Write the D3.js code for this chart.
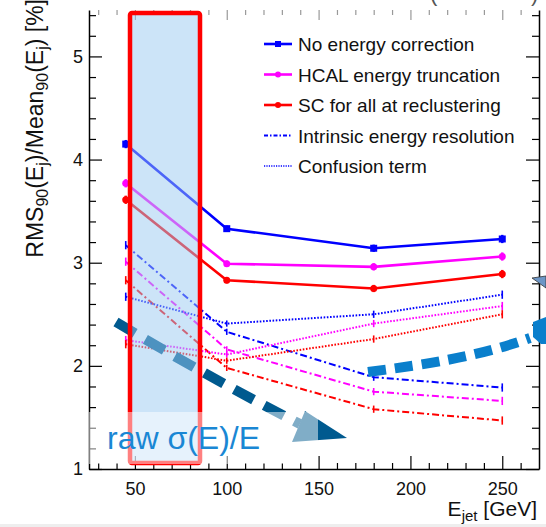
<!DOCTYPE html>
<html>
<head>
<meta charset="utf-8">
<script src="https://cdn.jsdelivr.net/npm/d3@7"></script>
<style>
  html, body { margin: 0; padding: 0; background: #fff; }
  svg { display: block; font-family: "Liberation Sans", Arial, sans-serif; }
</style>
</head>
<body>
<div id="chart"></div>
<script>
/*
  JET ENERGY RESOLUTION vs E_jet
*/
const energies = [45, 100, 180, 250];

// full resolution
const noCorrection = [4.15, 3.33, 3.14, 3.23];
const hcalTruncation = [3.77, 2.99, 2.96, 3.06];
const scReclustering = [3.61, 2.83, 2.75, 2.89];

// intrinsic part (dash-dot)
const intrinsicNoCorr = [3.17, 2.33, 1.89, 1.79];
const intrinsicHcal = [3.01, 2.16, 1.75, 1.66];
const intrinsicSc = [2.83, 1.98, 1.58, 1.47];

// confusion part (dotted)
const confusionNoCorr = [2.67, 2.41, 2.50, 2.69];
const confusionHcal = [2.25, 2.11, 2.41, 2.58];
const confusionSc = [2.21, 2.05, 2.26, 2.50];

const errSize = [0.04, 0.03, 0.035, 0.04];

const xTicks = [50, 100, 150, 200, 250];
const yTicks = [1, 2, 3, 4, 5];
const legendLabels = [
  'No energy correction',
  'HCAL energy truncation',
  'SC for all at reclustering',
  'Intrinsic energy resolution',
  'Confusion term'
];

const width = 546;
const height = 527;

const svg = d3.select('#chart').append('svg')
  .attr('width', width)
  .attr('height', height);

const x = d3.scaleLinear().domain([25, 270]).range([89, 539]);
const y = d3.scaleLinear().domain([1, 5.45]).range([469, 10]);

const BLUE = '#0000ff', MAG = '#ff00ff', RED = '#ff0000';
const DASHDOT = '7,3,2,3';
const DOTTED = '1.6,1.6';

const series = [
  { values: noCorrection, color: BLUE, dash: null, w: 2.6, marker: 'square' },
  { values: hcalTruncation, color: MAG, dash: null, w: 2.6, marker: 'circle' },
  { values: scReclustering, color: RED, dash: null, w: 2.6, marker: 'circle' },
  { values: intrinsicNoCorr, color: BLUE, dash: DASHDOT, w: 2, marker: null },
  { values: intrinsicHcal, color: MAG, dash: DASHDOT, w: 2, marker: null },
  { values: intrinsicSc, color: RED, dash: DASHDOT, w: 2, marker: null },
  { values: confusionNoCorr, color: BLUE, dash: DOTTED, w: 2, marker: null },
  { values: confusionHcal, color: MAG, dash: DOTTED, w: 2, marker: null },
  { values: confusionSc, color: RED, dash: DOTTED, w: 2, marker: null }
];

// Axes (ROOT style, ticks inside frame)
function styleAxis(g, color) {
  g.selectAll('line').attr('stroke', color || '#000').attr('stroke-width', 1.2);
  g.selectAll('text').attr('fill', '#111').attr('font-size', 18);
}

const minorX = d3.range(30, 270, 10).filter(v => !xTicks.includes(v));
const minorY = d3.range(12, 55, 2).map(v => v / 10).filter(v => !yTicks.includes(v));

svg.append('g')
  .attr('transform', 'translate(0,469)')
  .call(d3.axisBottom(x).tickValues(xTicks).tickSize(-13).tickSizeOuter(0).tickPadding(13))
  .call(g => g.select('.domain').attr('stroke', '#000').attr('stroke-width', 1.5))
  .call(g => styleAxis(g));

svg.append('g')
  .attr('transform', 'translate(0,469)')
  .call(d3.axisBottom(x).tickValues(minorX).tickSize(-6).tickFormat(''))
  .call(g => g.select('.domain').remove())
  .call(g => styleAxis(g));

svg.append('g')
  .attr('transform', 'translate(89,0)')
  .call(d3.axisLeft(y).tickValues(yTicks).tickFormat(d3.format('d')).tickSize(-13).tickSizeOuter(0).tickPadding(6))
  .call(g => g.select('.domain').attr('stroke', '#000').attr('stroke-width', 1.5))
  .call(g => styleAxis(g));

svg.append('g')
  .attr('transform', 'translate(89,0)')
  .call(d3.axisLeft(y).tickValues(minorY).tickSize(-7).tickFormat(''))
  .call(g => g.select('.domain').remove())
  .call(g => styleAxis(g));

svg.append('g')
  .attr('transform', 'translate(539,0)')
  .call(d3.axisRight(y).tickValues(yTicks).tickSize(-13).tickSizeOuter(0).tickFormat(''))
  .call(g => g.select('.domain').attr('stroke', '#000').attr('stroke-width', 1.5))
  .call(g => styleAxis(g));

svg.append('g')
  .attr('transform', 'translate(539,0)')
  .call(d3.axisRight(y).tickValues(minorY).tickSize(-7).tickFormat(''))
  .call(g => g.select('.domain').remove())
  .call(g => styleAxis(g));

svg.append('g')
  .attr('transform', 'translate(0,10)')
  .call(d3.axisTop(x).tickValues(xTicks).tickSize(-10).tickFormat(''))
  .call(g => g.select('.domain').remove())
  .call(g => styleAxis(g, '#999'));

svg.append('g')
  .attr('transform', 'translate(0,10)')
  .call(d3.axisTop(x).tickValues(minorX).tickSize(-5).tickFormat(''))
  .call(g => g.select('.domain').remove())
  .call(g => styleAxis(g, '#999'));

// axis titles
const yTitle = svg.append('text')
  .attr('transform', 'translate(43,-1) rotate(-90)')
  .attr('text-anchor', 'end')
  .attr('font-size', 23)
  .attr('fill', '#111');
yTitle.append('tspan').text('RMS');
yTitle.append('tspan').attr('font-size', 16).attr('dy', 5).text('90');
yTitle.append('tspan').attr('dy', -5).text('(E');
yTitle.append('tspan').attr('font-size', 16).attr('dy', 5).text('j');
yTitle.append('tspan').attr('dy', -5).text(')/Mean');
yTitle.append('tspan').attr('font-size', 16).attr('dy', 5).text('90');
yTitle.append('tspan').attr('dy', -5).text('(E');
yTitle.append('tspan').attr('font-size', 16).attr('dy', 5).text('j');
yTitle.append('tspan').attr('dy', -5).text(') [%]');

const xTitle = svg.append('text')
  .attr('x', 537)
  .attr('y', 516)
  .attr('text-anchor', 'end')
  .attr('font-size', 21)
  .attr('fill', '#111');
xTitle.append('tspan').text('E');
xTitle.append('tspan').attr('font-size', 15).attr('dy', 5).text('jet');
xTitle.append('tspan').attr('dy', -5).text(' [GeV]');

// bits of the cut-off title above the frame
svg.append('text').attr('x', 430).attr('y', 1).attr('font-size', 22).attr('fill', '#555').text('(');
svg.append('text').attr('x', 531).attr('y', 1).attr('font-size', 22).attr('fill', '#555').text(')');

// Data
const line = d3.line()
  .x((d, i) => x(energies[i]))
  .y(d => y(d));

const plot = svg.append('g');

series.forEach(s => {
  plot.append('path')
    .datum(s.values)
    .attr('d', line)
    .attr('fill', 'none')
    .attr('stroke', s.color)
    .attr('stroke-width', s.w)
    .attr('stroke-dasharray', s.dash);

  plot.selectAll(null)
    .data(s.values)
    .enter()
    .append('line')
    .attr('x1', (d, i) => x(energies[i]))
    .attr('x2', (d, i) => x(energies[i]))
    .attr('y1', (d, i) => y(d + errSize[i]))
    .attr('y2', (d, i) => y(d - errSize[i]))
    .attr('stroke', s.color)
    .attr('stroke-width', s.marker ? 2.4 : 1.6);

  if (s.marker === 'square') {
    plot.selectAll(null)
      .data(s.values)
      .enter()
      .append('rect')
      .attr('x', (d, i) => x(energies[i]) - 3.5)
      .attr('y', d => y(d) - 3.5)
      .attr('width', 7)
      .attr('height', 7)
      .attr('fill', s.color);
  } else if (s.marker === 'circle') {
    plot.selectAll(null)
      .data(s.values)
      .enter()
      .append('circle')
      .attr('cx', (d, i) => x(energies[i]))
      .attr('cy', d => y(d))
      .attr('r', 3.5)
      .attr('fill', s.color);
  }
});

// Legend
const legendStyles = [
  { color: BLUE, dash: null, w: 2.6, marker: 'square' },
  { color: MAG, dash: null, w: 2.6, marker: 'circle' },
  { color: RED, dash: null, w: 2.6, marker: 'circle' },
  { color: BLUE, dash: '4,2,1.5,2', w: 2, marker: null },
  { color: BLUE, dash: '1.2,1.2', w: 1.6, marker: null }
];

const legend = svg.append('g');
legendLabels.forEach((label, i) => {
  const ly = 44 + i * 30.5;
  const st = legendStyles[i];
  legend.append('line')
    .attr('x1', 264).attr('x2', 292)
    .attr('y1', ly).attr('y2', ly)
    .attr('stroke', st.color)
    .attr('stroke-width', st.w)
    .attr('stroke-dasharray', st.dash);
  if (st.marker === 'square') {
    legend.append('rect').attr('x', 275).attr('y', ly - 3).attr('width', 6).attr('height', 6).attr('fill', st.color);
  } else if (st.marker === 'circle') {
    legend.append('circle').attr('cx', 278).attr('cy', ly).attr('r', 3).attr('fill', st.color);
  }
  legend.append('text')
    .attr('x', 298)
    .attr('y', ly + 7)
    .attr('font-size', 19)
    .attr('fill', '#111')
    .text(label);
});

// Annotations drawn over the plot
const notes = svg.append('g');

notes.append('path')
  .attr('d', 'M116,322 Q210,378 300,424')
  .attr('fill', 'none')
  .attr('stroke', '#005a8f')
  .attr('stroke-width', 10)
  .attr('stroke-dasharray', '22,12');
notes.append('polygon')
  .attr('points', '305,411 292,442 347,438')
  .attr('fill', '#005a8f');

notes.append('rect')
  .attr('x', 130).attr('y', 13)
  .attr('width', 70).attr('height', 450)
  .attr('rx', 2)
  .attr('fill', '#99c9f1')
  .attr('fill-opacity', 0.5)
  .attr('stroke', '#ff0000')
  .attr('stroke-width', 4.5);

notes.append('rect')
  .attr('x', 89).attr('y', 412)
  .attr('width', 229).attr('height', 52)
  .attr('fill', '#fff')
  .attr('fill-opacity', 0.5);

notes.append('text')
  .attr('x', 107)
  .attr('y', 449)
  .attr('font-size', 32)
  .attr('fill', '#1a87d4')
  .text('raw σ(E)/E');

notes.append('path')
  .attr('d', 'M368,372 C430,364 480,356 530,338')
  .attr('fill', 'none')
  .attr('stroke', '#0a7fcc')
  .attr('stroke-width', 10)
  .attr('stroke-dasharray', '18,9');
notes.append('polygon')
  .attr('points', '533,322 546,317 546,344 541,344 533,337')
  .attr('fill', '#0a7fcc');

notes.append('polygon')
  .attr('points', '532,278 546,276 546,288')
  .attr('fill', '#6d96c6')
  .attr('stroke', '#333')
  .attr('stroke-width', 0.8);

// bottom strip of the screenshot
svg.append('rect')
  .attr('x', 0).attr('y', 524)
  .attr('width', width).attr('height', 3)
  .attr('fill', '#eeeeee');
</script>
</body>
</html>
